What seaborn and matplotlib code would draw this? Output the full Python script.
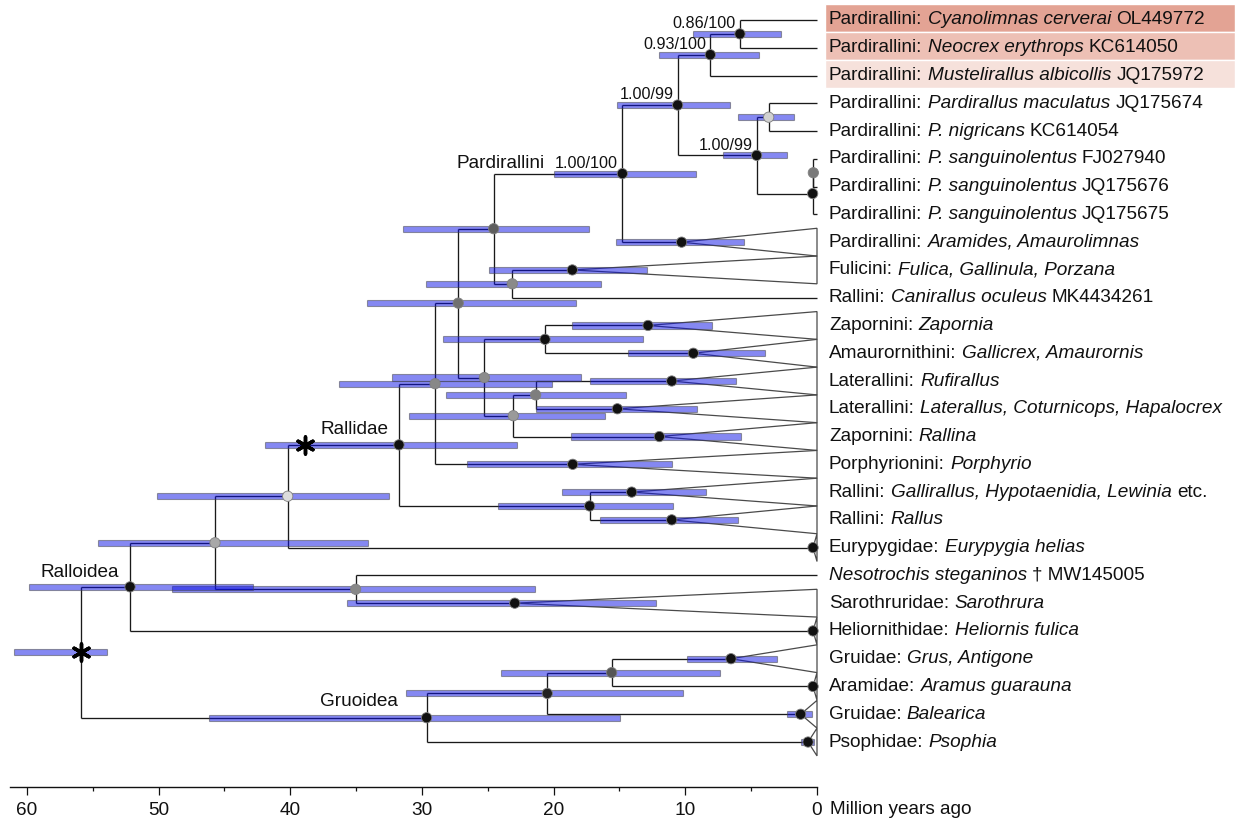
import numpy as np
import pandas as pd
import matplotlib
matplotlib.use("Agg")
import matplotlib.pyplot as plt
import seaborn as sns

nan = np.nan

# tips, top to bottom
tip_group = ["Pardirallini:"] * 9 + [
    "Fulicini:", "Rallini:", "Zapornini:", "Amaurornithini:", "Laterallini:",
    "Laterallini:", "Zapornini:", "Porphyrionini:", "Rallini:", "Rallini:",
    "Eurypygidae:", "", "Sarothruridae:", "Heliornithidae:", "Gruidae:",
    "Aramidae:", "Gruidae:", "Psophidae:"]
tip_taxon = [
    "Cyanolimnas cerverai", "Neocrex erythrops", "Mustelirallus albicollis",
    "Pardirallus maculatus", "P. nigricans", "P. sanguinolentus",
    "P. sanguinolentus", "P. sanguinolentus", "Aramides, Amaurolimnas",
    "Fulica, Gallinula, Porzana", "Canirallus oculeus", "Zapornia",
    "Gallicrex, Amaurornis", "Rufirallus", "Laterallus, Coturnicops, Hapalocrex",
    "Rallina", "Porphyrio", "Gallirallus, Hypotaenidia, Lewinia", "Rallus",
    "Eurypygia helias", "Nesotrochis steganinos", "Sarothrura",
    "Heliornis fulica", "Grus, Antigone", "Aramus guarauna", "Balearica", "Psophia"]
tip_acc = ["OL449772", "KC614050", "JQ175972", "JQ175674", "KC614054", "FJ027940",
           "JQ175676", "JQ175675", "", "", "MK4434261", "", "", "", "", "", "",
           "etc.", "", "", "\u2020 MW145005", "", "", "", "", "", ""]

# collapsed clades (triangles): crown age and 95% HPD in Myr (nan = single sequence)
tri_age = [nan] * 8 + [10.28, 18.58, nan, 12.83, 9.39, 11.03, 15.16, 11.97, 18.55,
                       14.07, 11.03, 0.30, nan, 22.95, 0.30, 6.53, 0.30, 1.24, 0.68]
tri_old = [nan] * 8 + [15.24, 24.9, nan, 18.6, 14.35, 17.2, 21.36, 18.7, 26.6,
                       19.4, 16.5, nan, nan, 35.7, nan, 9.9, nan, 2.26, 1.24]
tri_young = [nan] * 8 + [5.52, 12.9, nan, 8.0, 3.92, 6.15, 9.09, 5.8, 11.03,
                         8.45, 5.98, nan, nan, 12.2, nan, 3.06, nan, 0.4, 0.23]

# internal nodes (children listed before parents); ints are tip rows
node_id = ["c086", "c093", "cmn", "cs1", "cs2", "c099b", "c099a", "c100", "cfc",
           "cpf", "cza", "cla", "clr", "czl", "cup", "ccore", "cral", "rallidae",
           "ceu", "cns", "cA", "ralloidea", "cga", "cgb", "gruoidea", "root"]
node_kids = [(0, 1), ("c086", 2), (3, 4), (5, 6), ("cs1", 7), ("cmn", "cs2"),
             ("c093", "c099b"), ("c099a", 8), (9, 10), ("c100", "cfc"), (11, 12),
             (13, 14), ("cla", 15), ("cza", "clr"), ("cpf", "czl"), ("cup", 16),
             (17, 18), ("ccore", "cral"), ("rallidae", 19), (20, 21), ("ceu", "cns"),
             ("cA", 22), (23, 24), ("cga", 25), ("cgb", 26), ("ralloidea", "gruoidea")]
node_age = [5.85, 8.10, 3.67, 0.28, 0.33, 4.58, 10.58, 14.78, 23.14, 24.55, 20.65,
            21.36, 23.06, 25.26, 27.24, 29.0, 17.26, 31.74, 40.19, 35.03, 45.71,
            52.16, 15.59, 20.48, 29.64, 55.9]
node_old = [9.39, 11.97, 6.02, nan, nan, 7.16, 15.16, 19.97, 29.7, 31.4, 28.4, 28.2,
            30.95, 32.3, 34.2, 36.3, 24.2, 41.9, 50.1, 49.0, 54.6, 59.8, 24.0, 31.2,
            46.2, 61.0]
node_young = [2.76, 4.38, 1.72, nan, nan, 2.26, 6.58, 9.19, 16.4, 17.3, 13.2, 14.5,
              16.1, 17.9, 18.3, 20.1, 10.96, 22.8, 32.5, 21.4, 34.1, 42.8, 7.4, 10.15,
              14.96, 53.9]
# posterior shading of node circles
node_shade = ["#111111", "#111111", "#d0d0d0", "#7a7a7a", "#111111", "#111111",
              "#111111", "#111111", "#8a8a8a", "#5e5e5e", "#111111", "#7e7e7e",
              "#9a9a9a", "#8c8c8c", "#707070", "#888888", "#111111", "#111111",
              "#dcdcdc", "#888888", "#a8a8a8", "#111111", "#555555", "#222222",
              "#111111", None]

support = {"c086": "0.86/100", "c093": "0.93/100", "c099a": "1.00/99",
           "c099b": "1.00/99", "c100": "1.00/100"}
highlight_rows = [0, 1, 2]
highlight_col = ["#e3a394", "#edc0b5", "#f6e1db"]

# ---- layout (pixel based) ----
W, H = 1235, 821
X0PX, PXMY = 817.0, 13.17          # x pixel of 0 Myr, pixels per Myr
Y0PX, PXROW = 20.0, 27.77          # y pixel of first row, pixels per row


def t_of(px):
    return (X0PX - px) / PXMY


def r_of(py):
    return (py - Y0PX) / PXROW


sns.set_style("white")
plt.rcParams["font.family"] = ["Liberation Sans", "DejaVu Sans"]
FS = 13.7

fig = plt.figure(figsize=(W / 100, H / 100), dpi=100)
ax = fig.add_axes([0, 0, 1, 1])

# positions of tips and nodes
ypos, xpos = {}, {}
for i in range(len(tip_taxon)):
    ypos[i] = float(i)
    xpos[i] = 0.0 if np.isnan(tri_age[i]) else tri_age[i]
for nid, kids, age in zip(node_id, node_kids, node_age):
    ys = [ypos[k] for k in kids]
    ypos[nid] = (min(ys) + max(ys)) / 2
    xpos[nid] = age

# highlighted rows
for r, c in zip(highlight_rows, highlight_col):
    ax.barh(r - 0.06, t_of(W) - t_of(825), left=t_of(825), height=1.0,
            color=c, zorder=0)

# branches
for nid, kids in zip(node_id, node_kids):
    x = xpos[nid]
    ys = [ypos[k] for k in kids]
    ax.plot([x, x], [min(ys), max(ys)], color="#1a1a1a", lw=0.95, zorder=1,
            solid_capstyle="butt")
    for k in kids:
        ax.plot([x, xpos[k]], [ypos[k], ypos[k]], color="#1a1a1a", lw=0.95,
                zorder=1, solid_capstyle="butt")

# collapsed clades
for i, a in enumerate(tri_age):
    if np.isnan(a):
        continue
    ax.fill([a, 0, 0], [i, i - 0.5, i + 0.5], facecolor="none",
            edgecolor="#4a4a4a", lw=0.9, zorder=1)

# 95% HPD bars
bars = pd.DataFrame({
    "y": [ypos[n] for n in node_id] + list(range(len(tri_age))),
    "old": node_old + tri_old,
    "young": node_young + tri_young,
}).dropna()
ax.barh(bars["y"], bars["old"] - bars["young"], left=bars["young"], height=0.22,
        color=(0.05, 0.07, 0.9), alpha=0.5, edgecolor="#444444", linewidth=0.8,
        zorder=2)

# node circles
pts = pd.DataFrame({
    "age": [xpos[n] for n in node_id] + [a for a in tri_age if not np.isnan(a)],
    "y": [ypos[n] for n in node_id] + [i for i, a in enumerate(tri_age) if not np.isnan(a)],
    "shade": node_shade + ["#111111"] * int(np.sum(~np.isnan(tri_age))),
}).dropna()
sns.scatterplot(data=pts, x="age", y="y", hue="shade",
                palette={s: s for s in pts["shade"].unique()}, s=55,
                edgecolor="#808080", linewidth=0.6, legend=False, zorder=4, ax=ax)
ax.set_xlim(t_of(0), t_of(W))
ax.set_ylim(r_of(H), r_of(0))
ax.axis("off")

# calibration stars
ax.scatter([xpos["root"], 38.9], [ypos["root"], ypos["rallidae"]], marker=(6, 2, 0),
           s=150, linewidths=2.5, color="black", zorder=5)

# support values
for nid, lab in support.items():
    ax.annotate(lab, (xpos[nid], ypos[nid]), xytext=(-3, 2), textcoords="offset points",
                ha="right", va="bottom", fontsize=11.6, color="#111111", zorder=6)

# clade names
for lab, px, py in [("Pardirallini", 545, 163), ("Rallidae", 388, 430),
                    ("Ralloidea", 119, 572.7), ("Gruoidea", 398.3, 701.7)]:
    ax.text(t_of(px), r_of(py), lab, ha="right", va="center", fontsize=FS,
            color="#111111")

# tip labels (normal / italic / normal)
SP = 0.278 * FS
tip_t = t_of(829)
for i in range(len(tip_taxon)):
    parts = [(tip_group[i], "normal"), (tip_taxon[i], "italic"), (tip_acc[i], "normal")]
    prev = None
    for txt, st in parts:
        if not txt:
            continue
        if prev is None:
            prev = ax.text(tip_t, i, txt, style=st, ha="left", va="center",
                           fontsize=FS, color="#111111", zorder=6)
        else:
            prev = ax.annotate(txt, xy=(1, 0), xycoords=prev, xytext=(SP, 0),
                               textcoords="offset points", ha="left", va="bottom",
                               style=st, fontsize=FS, color="#111111", zorder=6)

# time axis
ax_t = fig.add_axes([10 / W, 1 - 787 / H, (X0PX - 10) / W, 0.0001])
ax_t.set_xlim(t_of(10), 0)
for s in ["left", "right", "top"]:
    ax_t.spines[s].set_visible(False)
ax_t.spines["bottom"].set_linewidth(1.0)
ax_t.spines["bottom"].set_color("#111111")
ax_t.set_yticks([])
ax_t.set_xticks(np.arange(0, 61, 10))
ax_t.set_xticks(np.arange(5, 60, 10), minor=True)
ax_t.tick_params(axis="x", which="major", bottom=True, length=5.5, width=0.9,
                 pad=5.5, labelsize=FS, colors="#111111", direction="out")
ax_t.tick_params(axis="x", which="minor", bottom=True, length=3, width=0.9,
                 direction="out", colors="#111111")
ax_t.set_facecolor("none")
ax.text(t_of(830), r_of(810), "Million years ago", ha="left", va="center",
        fontsize=FS, color="#111111")

fig.savefig("out.png", dpi=100)
